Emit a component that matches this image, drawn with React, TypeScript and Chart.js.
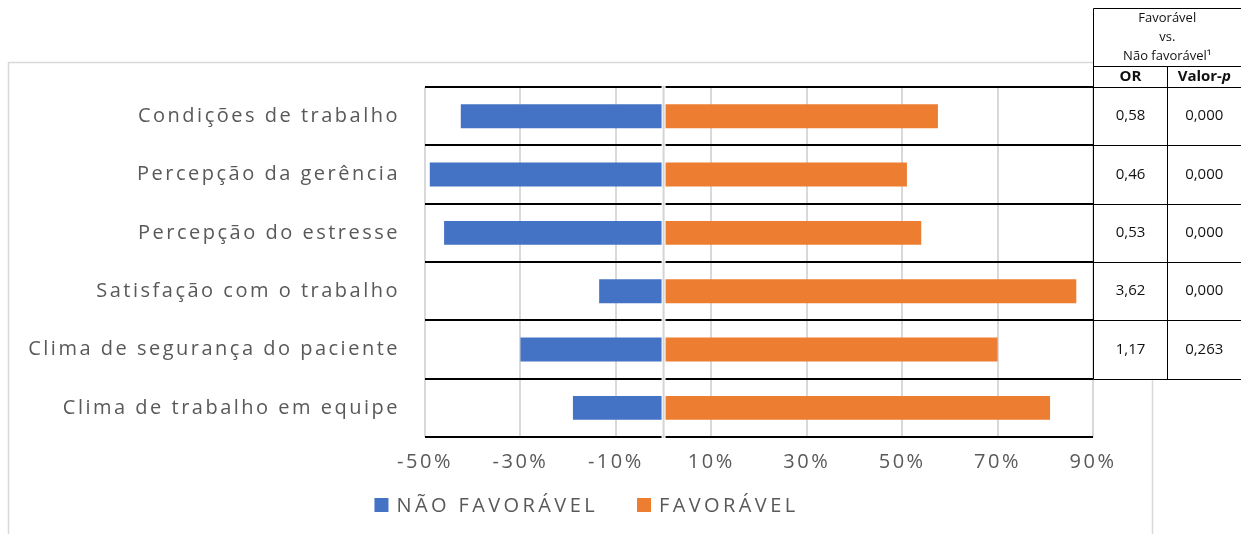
import React, { useEffect, useRef } from "react";
import { Chart, registerables } from "chart.js";

Chart.register(...registerables);

const categories = [
  "Condições de trabalho",
  "Percepção da gerência",
  "Percepção do estresse",
  "Satisfação com o trabalho",
  "Clima de segurança do paciente",
  "Clima de trabalho em equipe",
];
const naoFavoravel = [-42.5, -49, -46, -13.5, -30, -19];
const favoravel = [57.5, 51, 54, 86.5, 70, 81];
const xTicks = [-50, -30, -10, 10, 30, 50, 70, 90];
const seriesNames = ["NÃO FAVORÁVEL", "FAVORÁVEL"];
const tableTitle = ["Favorável", "vs.", "Não favorável¹"];
const orValues = ["0,58", "0,46", "0,53", "3,62", "1,17"];
const pValues = ["0,000", "0,000", "0,000", "0,000", "0,263"];

const FONT = "'Open Sans', sans-serif";
const LETTER_SPACING = "2.5px";
const LEGEND_CX = 586.5;
const LEGEND_CY = 505;

const spacingPlugin = {
  id: "spacing",
  beforeLayout(chart: any) {
    chart.ctx.letterSpacing = LETTER_SPACING;
  },
  beforeDraw(chart: any) {
    const ctx = chart.ctx;
    ctx.letterSpacing = LETTER_SPACING;
    ctx.save();
    ctx.fillStyle = "#ffffff";
    ctx.fillRect(0, 0, chart.width, chart.height);
    ctx.strokeStyle = "#d9d9d9";
    ctx.lineWidth = 1.5;
    ctx.strokeRect(8.5, 62.5, 1144, 600);
    ctx.restore();
  },
};

const zeroLinePlugin = {
  id: "zeroLine",
  afterDatasetsDraw(chart: any) {
    const ctx = chart.ctx;
    const x0 = chart.scales.x.getPixelForValue(0);
    const { top, bottom } = chart.chartArea;
    ctx.save();
    ctx.strokeStyle = "#ffffff";
    ctx.lineWidth = 4;
    ctx.beginPath();
    ctx.moveTo(x0, top - 1);
    ctx.lineTo(x0, bottom + 1);
    ctx.stroke();
    ctx.strokeStyle = "#d4d4d4";
    ctx.lineWidth = 2;
    ctx.beginPath();
    ctx.moveTo(x0, top - 1);
    ctx.lineTo(x0, bottom + 1);
    ctx.stroke();
    ctx.restore();
  },
};

const legendPlugin = {
  id: "customLegend",
  afterDraw(chart: any) {
    const ctx = chart.ctx;
    ctx.save();
    ctx.letterSpacing = "3.4px";
    ctx.font = `20px ${FONT}`;
    const items = chart.data.datasets.map((d: any) => ({
      text: d.label as string,
      color: d.backgroundColor as string,
    }));
    const box = 14;
    const gap = 8;
    const spacing = 39;
    const widths = items.map((it: any) => box + gap + ctx.measureText(it.text).width);
    const total =
      widths.reduce((a: number, b: number) => a + b, 0) + spacing * (items.length - 1);
    let x = LEGEND_CX - total / 2;
    ctx.textAlign = "left";
    ctx.textBaseline = "middle";
    items.forEach((it: any, i: number) => {
      ctx.fillStyle = it.color;
      ctx.fillRect(x, LEGEND_CY - 7, box, box);
      ctx.fillStyle = "#595959";
      ctx.fillText(it.text, x + box + gap, LEGEND_CY + 1);
      x += widths[i] + spacing;
    });
    ctx.restore();
  },
};

const tablePlugin = {
  id: "orTable",
  afterDraw(chart: any) {
    const ctx = chart.ctx;
    const y = chart.scales.y;
    const half = (y.getPixelForValue(1) - y.getPixelForValue(0)) / 2;
    const left = 1093.5;
    const right = 1241;
    const mid = 1167.5;
    const top = 8.5;
    const headLine = 66.5;
    const rowTops = orValues.map((_, i) => y.getPixelForValue(i) - half);
    const bottomY = y.getPixelForValue(orValues.length - 1) + half;
    ctx.save();
    ctx.letterSpacing = "0px";
    ctx.fillStyle = "#ffffff";
    ctx.fillRect(left, 0, right - left + 3, bottomY);
    ctx.strokeStyle = "#000000";
    ctx.lineWidth = 1;
    ctx.beginPath();
    ctx.moveTo(left, top);
    ctx.lineTo(right, top);
    ctx.moveTo(left, headLine);
    ctx.lineTo(right, headLine);
    rowTops.forEach((t) => {
      ctx.moveTo(left, Math.round(t) + 0.5);
      ctx.lineTo(right, Math.round(t) + 0.5);
    });
    ctx.moveTo(left, Math.round(bottomY) + 0.5);
    ctx.lineTo(right, Math.round(bottomY) + 0.5);
    ctx.moveTo(left, top);
    ctx.lineTo(left, Math.round(bottomY) + 0.5);
    ctx.moveTo(mid, headLine);
    ctx.lineTo(mid, Math.round(bottomY) + 0.5);
    ctx.stroke();

    ctx.fillStyle = "#111111";
    ctx.textAlign = "center";
    ctx.textBaseline = "middle";
    ctx.font = `13px ${FONT}`;
    const cx = (left + right) / 2;
    tableTitle.forEach((t, i) => ctx.fillText(t, cx, 18 + i * 19));

    const c1 = (left + mid) / 2;
    const c2 = (mid + right) / 2;
    const hy = (headLine + rowTops[0]) / 2;
    ctx.font = `bold 15px ${FONT}`;
    ctx.fillText("OR", c1, hy);
    const a = "Valor-";
    const b = "p";
    const wa = ctx.measureText(a).width;
    ctx.font = `italic bold 15px ${FONT}`;
    const wb = ctx.measureText(b).width;
    const sx = c2 - (wa + wb) / 2;
    ctx.textAlign = "left";
    ctx.font = `bold 15px ${FONT}`;
    ctx.fillText(a, sx, hy);
    ctx.font = `italic bold 15px ${FONT}`;
    ctx.fillText(b, sx + wa, hy);

    ctx.textAlign = "center";
    ctx.font = `15px ${FONT}`;
    orValues.forEach((v, i) => {
      const cy = y.getPixelForValue(i);
      ctx.fillText(v, c1, cy);
      ctx.fillText(pValues[i], c2, cy);
    });
    ctx.restore();
  },
};

export default function App() {
  const ref = useRef<HTMLCanvasElement | null>(null);
  useEffect(() => {
    if (!ref.current) return;
    const chart = new Chart(ref.current, {
      type: "bar",
      data: {
        labels: categories,
        datasets: [
          {
            label: seriesNames[0],
            data: naoFavoravel,
            backgroundColor: "#4472C4",
            borderWidth: 0,
            barPercentage: 0.41,
            categoryPercentage: 1,
          },
          {
            label: seriesNames[1],
            data: favoravel,
            backgroundColor: "#ED7D31",
            borderWidth: 0,
            barPercentage: 0.41,
            categoryPercentage: 1,
          },
        ],
      },
      options: {
        indexAxis: "y",
        responsive: false,
        animation: false,
        devicePixelRatio: 1,
        layout: { padding: { left: 0, right: 151, top: 87, bottom: 0 } },
        scales: {
          x: {
            type: "linear",
            stacked: true,
            min: xTicks[0],
            max: xTicks[xTicks.length - 1],
            afterBuildTicks: (scale: any) => {
              scale.ticks = xTicks.map((v) => ({ value: v }));
            },
            afterFit: (scale: any) => {
              scale.height = 97;
            },
            border: { display: false },
            grid: { color: "#d9d9d9", lineWidth: 2, drawTicks: false },
            ticks: {
              autoSkip: false,
              maxRotation: 0,
              padding: 13,
              color: "#595959",
              font: { family: FONT, size: 20 },
              callback: (v: any) => `${v}%`,
            },
          },
          y: {
            type: "category",
            stacked: true,
            afterFit: (scale: any) => {
              scale.width = 425;
            },
            border: { display: false },
            grid: { color: "#000000", lineWidth: 2, drawTicks: false, offset: true },
            ticks: {
              padding: 25,
              color: "#595959",
              font: { family: FONT, size: 20 },
            },
          },
        },
        plugins: {
          tooltip: { enabled: false },
          legend: { display: false },
        },
      },
      plugins: [spacingPlugin, zeroLinePlugin, legendPlugin, tablePlugin],
    } as any);
    return () => chart.destroy();
  }, []);

  return (
    <div
      style={{
        position: "fixed",
        left: 0,
        top: 0,
        width: 1244,
        height: 534,
        background: "#ffffff",
      }}
    >
      <canvas ref={ref} width={1244} height={534} style={{ display: "block" }} />
    </div>
  );
}
